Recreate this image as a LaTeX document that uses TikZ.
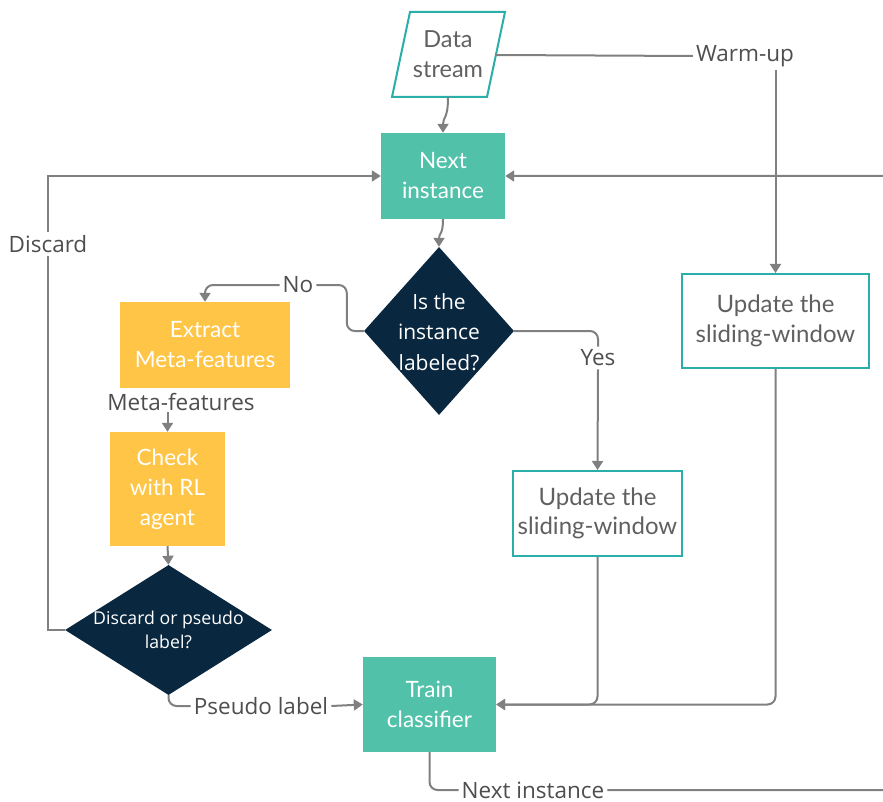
\documentclass[tikz,border=0pt]{standalone}
\usepackage{fontspec}
\setmainfont{Open Sans}
\newfontfamily\lato{Lato}
\usetikzlibrary{shapes.geometric,arrows.meta,calc}
\definecolor{linegray}{RGB}{128,128,128}
\definecolor{lblgray}{RGB}{78,78,78}
\definecolor{boxtext}{RGB}{96,96,96}
\definecolor{tealline}{RGB}{42,174,170}
\definecolor{greenfill}{RGB}{82,193,169}
\definecolor{yellowfill}{RGB}{255,197,71}
\definecolor{navy}{RGB}{10,39,64}
\tikzset{
  conn/.style={draw=linegray, line width=2pt},
  arr/.style={conn, -{Triangle[width=11pt,length=9pt]}},
  boxbase/.style={rectangle, inner sep=0pt, align=center, font=\lato\fontsize{22.5}{30}\selectfont},
  greenbox/.style={boxbase, fill=greenfill, text=white},
  yellowbox/.style={boxbase, fill=yellowfill, text=white},
  outbox/.style={boxbase, draw=tealline, line width=2pt, fill=white, text=boxtext, font=\lato\fontsize{24}{29.5}\selectfont},
  decision/.style={diamond, fill=navy, inner sep=0pt},
  dtext/.style={text=white, align=center},
  lbl/.style={fill=white, text=lblgray, inner sep=3pt, font=\fontsize{22.5}{27}\selectfont},
}
\begin{document}
\begin{tikzpicture}[x=1pt, y=-1pt]
\useasboundingbox (0,0) rectangle (883,802);
\clip (0,0) rectangle (883,802);

% Data stream (parallelogram)
\draw[tealline, line width=2pt] (410,12) -- (505,12) -- (487,97) -- (392,97) -- cycle;
\node[boxbase, text=boxtext, font=\lato\fontsize{23.5}{30}\selectfont, minimum width=113pt, minimum height=85pt] (ds) at (448,54.5) {Data\\stream};
\coordinate (dsr) at (496,55);

% Boxes
\node[greenbox, minimum width=124pt, minimum height=86pt] (next) at (443,176) {Next\\instance};
\node[yellowbox, minimum width=170pt, minimum height=86pt] (extract) at (205,345) {Extract\\Meta-features};
\node[yellowbox, minimum width=115pt, minimum height=114pt] (check) at (167.5,489) {Check\\with RL\\agent};
\node[greenbox, minimum width=133pt, minimum height=95pt] (train) at (429.5,704.5) {Train\\classifier};
\node[outbox, minimum width=169pt, minimum height=85pt] (upd1) at (597.5,513.5) {Update the\\sliding-window};
\node[outbox, minimum width=187pt, minimum height=94pt] (upd2) at (775.5,321) {Update the\\sliding-window};

% Decisions
\node[decision, minimum width=150pt, minimum height=168pt] (dia1) at (439,331) {};
\node[dtext, font=\fontsize{21}{30.5}\selectfont] (dia1t) at (439,332) {Is the\\instance\\labeled?};
\node[decision, minimum width=207pt, minimum height=130pt] (dia2) at (168.5,630) {};
\node[dtext, font=\fontsize{17.7}{24}\selectfont] (dia2t) at (168.5,630) {Discard or pseudo\\label?};

% Labels
\node[lbl] (warm) at (745,56) {Warm-up};
\node[lbl] (no) at (298,285) {No};
\node[lbl] (yes) at (598,358) {Yes};
\node[lbl] (disc) at (48,244) {Discard};
\node[lbl, inner sep=1pt] (meta) at (181,402) {Meta-features};
\node[lbl] (pseudo) at (261,706) {Pseudo label};
\node[lbl, inner ysep=0pt] (nextlbl) at (533,790) {Next instance};
\coordinate (farR) at (905,790);

% Connectors
\draw[arr] (ds.south) .. controls +(0,22) and +(0,-16) .. (next.north);
\draw[conn] (dsr) -- (warm.west);
\draw[arr] (warm.south -| upd2.north) -- (upd2.north);
\draw[arr] (next.south) .. controls +(0,16) and +(0,-14) .. (dia1.north);
\draw[conn, rounded corners=8pt] (dia1.west) -- ++(-17,0) |- (no.east);
\draw[arr, rounded corners=8pt] (no.west) -| (extract.north);
\draw[conn, rounded corners=8pt] (dia1.east) -| (yes.north);
\draw[arr] (yes.south) -- (upd1.north);
\draw[arr] (meta.south -| check.north) -- (check.north);
\draw[arr] (check.south) -- (dia2.north);
\draw[conn] (dia2.west) -| (disc.south);
\draw[arr] (disc.north) |- (next.west);
\draw[conn, rounded corners=8pt] (dia2.south) |- (pseudo.west);
\draw[arr] (pseudo.east) -- (train.west);
\draw[arr, rounded corners=8pt] (upd1.south) |- (train.east);
\draw[arr, rounded corners=8pt] (upd2.south) |- (train.east);
\draw[conn, rounded corners=8pt] (train.south) |- (nextlbl.west);
\draw[arr, rounded corners=8pt] (nextlbl.east) -- (farR) |- (next.east);
\end{tikzpicture}
\end{document}
